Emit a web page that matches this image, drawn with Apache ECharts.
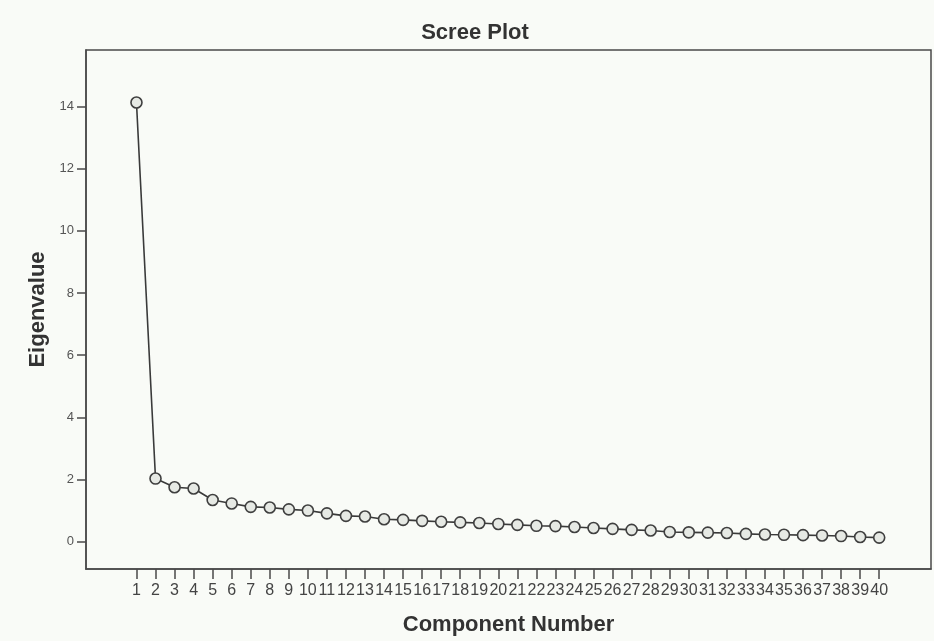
<!DOCTYPE html>
<html>
<head>
<meta charset="utf-8">
<script src="https://cdn.jsdelivr.net/npm/echarts@6/dist/echarts.min.js"></script>
<style>
html,body{margin:0;padding:0;background:#f9fbf7;}
#chart{width:934px;height:641px;}
</style>
</head>
<body>
<div id="chart"></div>
<script>
var components = [1,2,3,4,5,6,7,8,9,10,11,12,13,14,15,16,17,18,19,20,21,22,23,24,25,26,27,28,29,30,31,32,33,34,35,36,37,38,39,40];
var eigenvalues = [14.13,2.03,1.75,1.71,1.34,1.23,1.12,1.10,1.04,1.00,0.91,0.83,0.81,0.72,0.70,0.67,0.64,0.62,0.60,0.57,0.54,0.51,0.50,0.47,0.44,0.41,0.38,0.36,0.31,0.30,0.29,0.28,0.25,0.23,0.22,0.21,0.20,0.18,0.15,0.13];
var yTicks = [0,2,4,6,8,10,12,14];

var chart = echarts.init(document.getElementById('chart'));
var data = components.map(function(c,i){ return [c, eigenvalues[i]]; });
chart.setOption({
  animation: false,
  backgroundColor: '#f9fbf7',
  title: {
    text: 'Scree Plot',
    left: 470, top: 17, textAlign: 'center',
    textStyle: {fontFamily: 'Liberation Sans', fontWeight: 'bold', fontSize: 22, color: '#333'}
  },
  grid: {left: 86, right: 3, top: 50, bottom: 71, show: true, borderColor: '#4a4a4a', borderWidth: 1.5, backgroundColor: 'transparent'},
  xAxis: {
    type: 'value', min: -1.65, max: 42.72,
    name: 'Component Number', nameLocation: 'middle', nameGap: 45,
    nameTextStyle: {fontFamily: 'Liberation Sans', fontWeight: 'bold', fontSize: 22, color: '#333'},
    axisLine: {show: true, onZero: false, lineStyle: {color: '#4a4a4a', width: 1.5}},
    axisTick: {show: true, customValues: components, length: 10, lineStyle: {color: '#4a4a4a', width: 1.5}},
    axisLabel: {customValues: components, fontFamily: 'Liberation Sans', fontSize: 16, color: '#444', margin: 14},
    splitLine: {show: false}
  },
  yAxis: {
    type: 'value', min: -0.88, max: 15.82,
    name: 'Eigenvalue', nameLocation: 'middle', nameGap: 36,
    nameTextStyle: {fontFamily: 'Liberation Sans', fontWeight: 'bold', fontSize: 22, color: '#333'},
    axisLine: {show: true, onZero: false, lineStyle: {color: '#4a4a4a', width: 1.5}},
    axisTick: {show: true, customValues: yTicks, length: 9, lineStyle: {color: '#4a4a4a', width: 1.5}},
    axisLabel: {customValues: yTicks, fontFamily: 'Liberation Sans', fontSize: 13, color: '#555', margin: 12},
    splitLine: {show: false}
  },
  series: [{
    type: 'line',
    data: data,
    symbol: 'circle',
    symbolSize: 11,
    showSymbol: true,
    lineStyle: {color: '#3a3a3a', width: 1.6},
    itemStyle: {color: '#e6e9e4', borderColor: '#3f3f3f', borderWidth: 1.6}
  }]
});
</script>
</body>
</html>
